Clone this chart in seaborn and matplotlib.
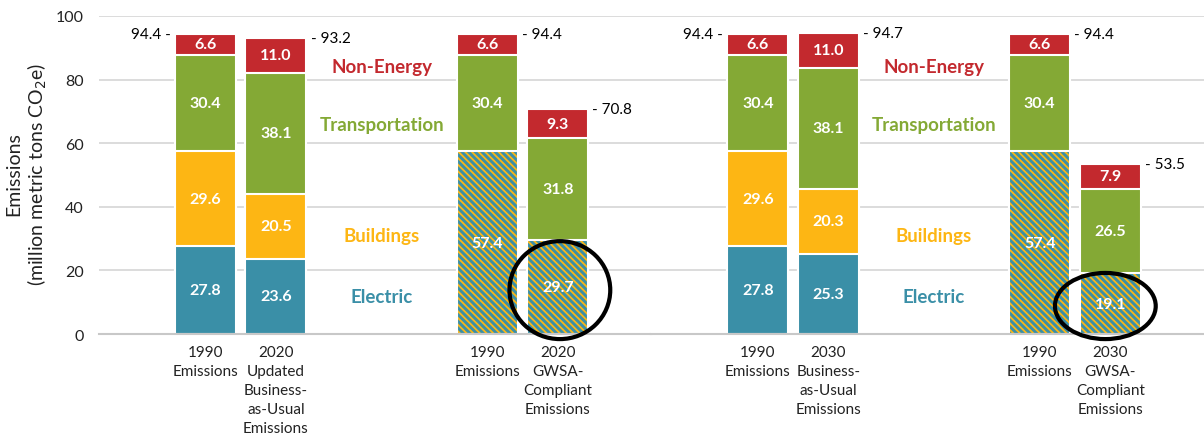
import numpy as np
import pandas as pd
import matplotlib
matplotlib.use("Agg")
import matplotlib.pyplot as plt
import seaborn as sns
from matplotlib.patches import Ellipse

# ---------------- data ----------------
sectors = ["Electric", "Buildings", "Transportation", "Non-Energy"]
bar_keys = ["base", "bau", "base_g", "gwsa"]

labels_2020 = ["1990\nEmissions", "2020\nUpdated\nBusiness-\nas-Usual\nEmissions",
               "1990\nEmissions", "2020\nGWSA-\nCompliant\nEmissions"]
electric_2020 = [27.8, 23.6, np.nan, np.nan]
buildings_2020 = [29.6, 20.5, np.nan, np.nan]
elec_bldg_2020 = [np.nan, np.nan, 57.4, 29.7]
transport_2020 = [30.4, 38.1, 30.4, 31.8]
nonenergy_2020 = [6.6, 11.0, 6.6, 9.3]
totals_2020 = [94.4, 93.2, 94.4, 70.8]

labels_2030 = ["1990\nEmissions", "2030\nBusiness-\nas-Usual\nEmissions",
               "1990\nEmissions", "2030\nGWSA-\nCompliant\nEmissions"]
electric_2030 = [27.8, 25.3, np.nan, np.nan]
buildings_2030 = [29.6, 20.3, np.nan, np.nan]
elec_bldg_2030 = [np.nan, np.nan, 57.4, 19.1]
transport_2030 = [30.4, 38.1, 30.4, 26.5]
nonenergy_2030 = [6.6, 11.0, 6.6, 7.9]
totals_2030 = [94.4, 94.7, 94.4, 53.5]

# ---------------- style ----------------
RED = "#C3292E"
GREEN = "#84A935"
ORANGE = "#FDB614"
TEAL = "#3A8FA7"

sns.set_theme(style="white")
plt.rcParams["font.family"] = ["Lato", "DejaVu Sans"]
plt.rcParams["hatch.color"] = ORANGE
plt.rcParams["hatch.linewidth"] = 1.3

W = 0.865
order = ["base", "bau", "gap1", "gap2", "base_g", "gwsa"]

fig = plt.figure(figsize=(12.04, 4.39), dpi=100)
ax_w = 0.4589
ax1 = fig.add_axes([0.0822, 0.2369, ax_w, 0.9613 - 0.2369])
ax2 = fig.add_axes([0.0822 + ax_w, 0.2369, ax_w, 0.9613 - 0.2369], sharey=ax1)

panels = [
    (ax1, labels_2020, electric_2020, buildings_2020, elec_bldg_2020, transport_2020, nonenergy_2020, totals_2020),
    (ax2, labels_2030, electric_2030, buildings_2030, elec_bldg_2030, transport_2030, nonenergy_2030, totals_2030),
]

common = dict(order=order, width=W, saturation=1, errorbar=None)

for ax, labels, el, bl, eb_c, tr, ne, tot in panels:
    df = pd.DataFrame({"bar": bar_keys, "electric": el, "buildings": bl,
                       "eb_comb": eb_c, "transport": tr, "nonenergy": ne, "total": tot})
    df["eb"] = np.where(df["eb_comb"].isna(), df["electric"] + df["buildings"], df["eb_comb"])
    df["ebt"] = df["eb"] + df["transport"]
    df["top"] = df["ebt"] + df["nonenergy"]
    sep = df[df["eb_comb"].isna()]
    comb = df[df["eb_comb"].notna()]

    sns.barplot(data=df, x="bar", y="top", color=RED, edgecolor="white", linewidth=1.5, ax=ax, **common)
    sns.barplot(data=df, x="bar", y="ebt", color=GREEN, edgecolor="white", linewidth=1.5, ax=ax, **common)
    sns.barplot(data=sep, x="bar", y="eb", color=ORANGE, edgecolor="white", linewidth=1.5, ax=ax, **common)
    sns.barplot(data=sep, x="bar", y="electric", color=TEAL, edgecolor="white", linewidth=1.5, ax=ax, **common)
    sns.barplot(data=comb, x="bar", y="eb", color=TEAL, edgecolor=ORANGE, linewidth=0,
                hatch="\\\\\\\\\\", ax=ax, **common)
    sns.barplot(data=comb, x="bar", y="eb", color="white", fill=False, linewidth=1.5, ax=ax, **common)

    # value labels
    lab_kw = dict(ha="center", va="center", color="white", fontsize=11.5, fontweight="bold")
    for _, r in df.iterrows():
        xp = order.index(r["bar"])
        if np.isnan(r["eb_comb"]):
            ax.text(xp, r["electric"] / 2, f"{r['electric']:.1f}", **lab_kw)
            ax.text(xp, r["electric"] + r["buildings"] / 2, f"{r['buildings']:.1f}", **lab_kw)
        else:
            ax.text(xp, r["eb"] / 2, f"{r['eb']:.1f}", **lab_kw)
        ax.text(xp, r["eb"] + r["transport"] / 2, f"{r['transport']:.1f}", **lab_kw)
        ax.text(xp, r["ebt"] + r["nonenergy"] / 2, f"{r['nonenergy']:.1f}", **lab_kw)
        # totals
        if r["bar"] == "base":
            ax.annotate(f"{r['total']:.1f} -", xy=(xp - W / 2, r["total"]), xytext=(-3, 0),
                        textcoords="offset points", ha="right", va="center", fontsize=11, color="black")
        else:
            ax.annotate(f"- {r['total']:.1f}", xy=(xp + W / 2, r["total"]), xytext=(3, 0),
                        textcoords="offset points", ha="left", va="center", fontsize=11, color="black")

    # sector labels in gap
    gx = (order.index("gap1") + order.index("gap2")) / 2
    for name, yv, c in [("Non-Energy", 84.0, RED), ("Transportation", 66.0, GREEN),
                        ("Buildings", 31.1, ORANGE), ("Electric", 11.9, TEAL)]:
        ax.text(gx, yv, name, ha="center", va="center", color=c, fontsize=13.5, fontweight="bold")

    ticks = [order.index(k) for k in bar_keys]
    ax.set_xticks(ticks)
    ax.set_xticklabels(labels, fontsize=11, linespacing=1.45, color="#222222", va="top")
    ax.tick_params(axis="x", length=0, pad=8)
    ax.tick_params(axis="y", length=0, pad=11, labelsize=11.5, labelcolor="#222222")
    ax.set_xlim(-1.51, 6.33)
    ax.set_ylim(0, 100)
    ax.set_yticks([0, 20, 40, 60, 80, 100])
    ax.yaxis.grid(True, color="#D9D9D9", linewidth=1.3)
    ax.set_axisbelow(True)
    for s in ["left", "right", "top"]:
        ax.spines[s].set_visible(False)
    ax.spines["bottom"].set_color("#C8C8C8")
    ax.spines["bottom"].set_linewidth(1.5)
    ax.set_xlabel("")
    ax.set_ylabel("")

ax2.tick_params(axis="y", labelleft=False)

ax1.set_ylabel("Emissions\n(million metric tons CO$_2$e)", fontsize=14, linespacing=1.2,
               color="#222222", va="center", ha="center")
ax1.yaxis.set_label_coords(-0.130, 0.506)

# circles
e1 = Ellipse((order.index("gwsa") + 0.03, 13.8), width=1.43, height=30.8, fill=False,
             edgecolor="black", linewidth=3, clip_on=False, zorder=5)
ax1.add_patch(e1)
e2 = Ellipse((order.index("gwsa") - 0.07, 8.8), width=1.43, height=20.8, fill=False,
             edgecolor="black", linewidth=3, clip_on=False, zorder=5)
ax2.add_patch(e2)

fig.savefig("out.png", dpi=100)
